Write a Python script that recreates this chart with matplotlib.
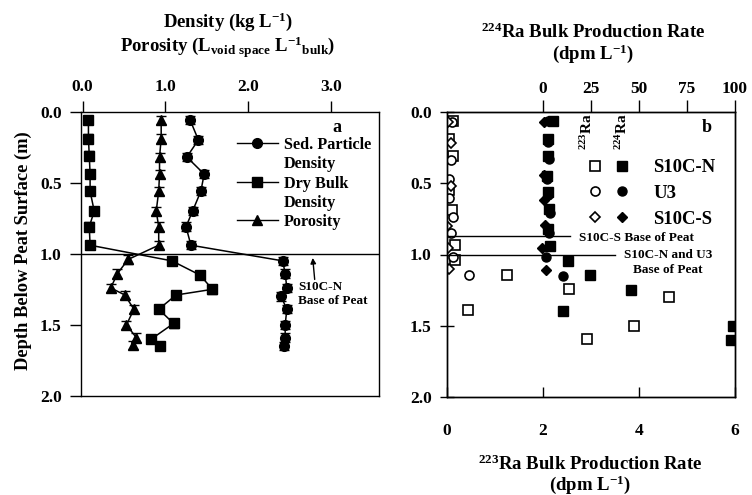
import matplotlib
matplotlib.use('Agg')
import matplotlib.pyplot as plt
from matplotlib.lines import Line2D
from matplotlib.legend_handler import HandlerTuple

plt.rcParams['font.family'] = ['Liberation Serif', 'DejaVu Serif']
plt.rcParams['font.weight'] = 'bold'
plt.rcParams['mathtext.default'] = 'regular'
plt.rcParams['axes.linewidth'] = 1.0

# ---------------- Panel a data ----------------
sed_depth = [0.06, 0.20, 0.32, 0.44, 0.56, 0.70, 0.81, 0.94, 1.05, 1.14, 1.24, 1.30, 1.39, 1.50, 1.59, 1.65]
sed_density = [1.30, 1.40, 1.26, 1.47, 1.43, 1.33, 1.25, 1.31, 2.42, 2.45, 2.47, 2.40, 2.47, 2.45, 2.45, 2.44]

dry_depth = [0.06, 0.19, 0.31, 0.44, 0.56, 0.70, 0.81, 0.94, 1.05, 1.15, 1.25, 1.29, 1.39, 1.49, 1.60, 1.65]
dry_density = [0.07, 0.07, 0.08, 0.09, 0.09, 0.14, 0.08, 0.09, 1.08, 1.42, 1.57, 1.13, 0.92, 1.10, 0.83, 0.93]

por_depth = [0.06, 0.19, 0.32, 0.44, 0.56, 0.70, 0.81, 0.94, 1.04, 1.14, 1.24, 1.29, 1.39, 1.50, 1.59, 1.64]
porosity = [0.95, 0.95, 0.93, 0.93, 0.92, 0.89, 0.92, 0.92, 0.55, 0.42, 0.34, 0.51, 0.62, 0.53, 0.65, 0.61]

depth_err = 0.03
peat_base_a = 1.0

# ---------------- Panel b data ----------------
# 223Ra (open symbols, bottom axis, dpm/L)
n223_depth = [0.06, 0.19, 0.31, 0.55, 0.69, 0.93, 1.04, 1.144, 1.244, 1.30, 1.39, 1.50, 1.595]
n223 = [0.13, 0.04, 0.13, 0.05, 0.10, 0.17, 0.17, 1.24, 2.55, 4.63, 0.44, 3.90, 2.91]
u3_223_depth = [0.07, 0.34, 0.47, 0.60, 0.74, 0.85, 1.02, 1.144]
u3_223 = [0.10, 0.09, 0.04, 0.05, 0.12, 0.08, 0.12, 0.46]
s_223_depth = [0.07, 0.22, 0.52, 0.80, 0.955, 1.10]
s_223 = [0.03, 0.08, 0.08, 0.00, 0.03, 0.05]

# 224Ra (filled symbols, top axis, dpm/L)
n224_depth = [0.06, 0.19, 0.31, 0.45, 0.56, 0.68, 0.82, 0.94, 1.046, 1.146, 1.249, 1.394, 1.502, 1.60]
n224 = [5.0, 2.5, 2.8, 2.3, 2.5, 3.0, 2.8, 3.5, 13.2, 24.5, 45.7, 10.3, 99.0, 98.0]
u3_224_depth = [0.06, 0.21, 0.33, 0.47, 0.58, 0.71, 0.85, 1.02, 1.151]
u3_224 = [2.5, 2.8, 3.0, 2.0, 2.5, 3.5, 3.0, 1.6, 10.3]
s_224_depth = [0.07, 0.44, 0.62, 0.79, 0.955, 1.109]
s_224 = [0.5, 0.3, 0.5, 0.8, -0.3, 1.6]

peat_base_s = 0.87
peat_base_nu3 = 1.0

depth_ticks = [0.0, 0.5, 1.0, 1.5, 2.0]
depth_labels = ['0.0', '0.5', '1.0', '1.5', '2.0']
dens_ticks = [0, 1, 2, 3]
dens_labels = ['0.0', '1.0', '2.0', '3.0']
ra223_ticks = [0, 2, 4, 6]
ra224_ticks = [0, 25, 50, 75, 100]

W, H = 752, 495
fig = plt.figure(figsize=(W / 100, H / 100), dpi=100)

def px(x0, y0, x1, y1):
    return [x0 / W, 1 - y1 / H, (x1 - x0) / W, (y1 - y0) / H]

# ================= Panel a =================
ax = fig.add_axes(px(81, 111.5, 379, 396))
kw = dict(color='black', lw=1.1, capsize=3.6, elinewidth=1.0, capthick=1.0)
ax.errorbar(sed_density, sed_depth, yerr=depth_err, fmt='-o', ms=7, **kw)
ax.errorbar(dry_density, dry_depth, yerr=depth_err, fmt='-s', ms=6.5, **kw)
ax.errorbar(porosity, por_depth, yerr=depth_err, fmt='-^', ms=7, **kw)
ax.axhline(peat_base_a, color='black', lw=1.0)
ax.set_xlim(-0.02, 3.585)
ax.set_ylim(2.0, 0.0)
ax.xaxis.tick_top()
ax.set_xticks(dens_ticks)
ax.set_xticklabels(dens_labels)
ax.set_yticks(depth_ticks)
ax.set_yticklabels(depth_labels)
ax.tick_params(axis='x', direction='out', length=8, width=1, pad=4, labelsize=12.5)
ax.tick_params(axis='y', direction='out', length=8, width=1, pad=6, labelsize=12.5)
ax.text(3.08, 0.11, 'a', fontsize=13, ha='center', va='center')

handles = [Line2D([], [], color='black', marker='o', ms=7, lw=1),
           Line2D([], [], lw=0, marker=None),
           Line2D([], [], color='black', marker='s', ms=6.5, lw=1),
           Line2D([], [], lw=0, marker=None),
           Line2D([], [], color='black', marker='^', ms=7, lw=1)]
labels = ['Sed. Particle', 'Density', 'Dry Bulk', 'Density', 'Porosity']
ax.legend(handles, labels, loc='upper left', bbox_to_anchor=(0.522, 1 - (137 - 111.5) / 284.5),
          frameon=False, borderpad=0, borderaxespad=0, handlelength=2.55,
          handletextpad=0.35, labelspacing=0.2, fontsize=11.7, numpoints=1)

ax.annotate('', xy=(2.78, 1.01), xytext=(2.81, 1.2),
            arrowprops=dict(arrowstyle='-|>', color='black', lw=1.0, mutation_scale=8))
ax.text(2.61, 1.235, 'S10C-N', fontsize=9.5, ha='left', va='center')
ax.text(2.61, 1.335, 'Base of Peat', fontsize=9.5, ha='left', va='center')

fig.text(228 / W, 1 - 22 / H, 'Density (kg L$^{-1}$)', fontsize=13.5, ha='center', va='center')
fig.text(228 / W, 1 - 47 / H, 'Porosity (L$_{void\\ space}$ L$^{-1}$$_{bulk}$)',
         fontsize=13.5, ha='center', va='center')
fig.text(23 / W, 1 - 251 / H, 'Depth Below Peat Surface (m)', fontsize=13.3,
         rotation=90, ha='center', va='center')

# ================= Panel b =================
bx = fig.add_axes(px(447, 112, 735, 397))
ms_o = 6.5
bx.plot(n223, n223_depth, 's', ms=ms_o, mfc='white', mec='black', mew=1.2, ls='none')
bx.plot(u3_223, u3_223_depth, 'o', ms=ms_o, mfc='white', mec='black', mew=1.2, ls='none')
bx.plot(s_223, s_223_depth, 'D', ms=5.5, mfc='white', mec='black', mew=1.2, ls='none')
bx.set_xlim(0, 6)
bx.set_ylim(2.0, 0.0)
bx.set_xticks(ra223_ticks)
bx.set_xticklabels([str(t) for t in ra223_ticks])
bx.set_yticks(depth_ticks)
bx.set_yticklabels(depth_labels)
bx.tick_params(axis='x', direction='in', length=7, width=1, pad=19, labelsize=12.5)
bx.tick_params(axis='y', direction='inout', length=10, width=1, pad=6, labelsize=12.5)

bx.axhline(peat_base_s, xmin=0, xmax=0.427, color='black', lw=1.0)
bx.axhline(peat_base_nu3, xmin=0, xmax=0.583, color='black', lw=1.0)
bx.text((579.3 - 447) / 288, 1 - (238 - 112) / 285, 'S10C-S Base of Peat', transform=bx.transAxes,
        fontsize=9.5, ha='left', va='center')
bx.text((668 - 447) / 288, 1 - (249 - 112) / 285, 'S10C-N and U3\nBase of Peat', transform=bx.transAxes,
        fontsize=9.5, ha='center', va='top', linespacing=1.3)
bx.text((707 - 447) / 288, 1 - (127 - 112) / 285, 'b', transform=bx.transAxes,
        fontsize=13, ha='center', va='center')

bx2 = bx.twiny()
bx2.plot(n224, n224_depth, 's', ms=ms_o, color='black', ls='none')
bx2.plot(u3_224, u3_224_depth, 'o', ms=ms_o, color='black', ls='none')
bx2.plot(s_224, s_224_depth, 'D', ms=5.5, color='black', ls='none')
bx2.set_xlim(-50, 100)
bx2.set_xticks(ra224_ticks)
bx2.set_xticklabels([str(t) for t in ra224_ticks])
bx2.tick_params(axis='x', direction='out', length=9, width=1, pad=2, labelsize=12.5)

# legend (open = 223Ra, filled = 224Ra)
leg_h = [(Line2D([], [], marker='s', ms=ms_o, mfc='white', mec='black', mew=1.2, ls='none'),
          Line2D([], [], marker='s', ms=ms_o, color='black', ls='none')),
         (Line2D([], [], marker='o', ms=ms_o, mfc='white', mec='black', mew=1.2, ls='none'),
          Line2D([], [], marker='o', ms=ms_o, color='black', ls='none')),
         (Line2D([], [], marker='D', ms=5.5, mfc='white', mec='black', mew=1.2, ls='none'),
          Line2D([], [], marker='D', ms=5.5, color='black', ls='none'))]
leg_l = ['S10C-N', 'U3', 'S10C-S']
bx2.legend(leg_h, leg_l, handler_map={tuple: HandlerTuple(ndivide=None, pad=0)},
           loc='upper left', bbox_to_anchor=((581.5 - 447) / 288, 1 - (159 - 112) / 285),
           frameon=False, borderpad=0, borderaxespad=0, handlelength=2.88,
           handletextpad=0.95, labelspacing=0.46, fontsize=13.5, numpoints=1)
bx2.text((587 - 447) / 288, 1 - (132 - 112) / 285, '$^{223}$Ra', transform=bx2.transAxes,
         fontsize=11, rotation=90, ha='center', va='center')
bx2.text((622 - 447) / 288, 1 - (132 - 112) / 285, '$^{224}$Ra', transform=bx2.transAxes,
         fontsize=11, rotation=90, ha='center', va='center')

fig.text(593 / W, 1 - 32 / H, '$^{224}$Ra Bulk Production Rate', fontsize=13.5, ha='center', va='center')
fig.text(593 / W, 1 - 54 / H, '(dpm L$^{-1}$)', fontsize=13.5, ha='center', va='center')
fig.text(590 / W, 1 - 464 / H, '$^{223}$Ra Bulk Production Rate', fontsize=13.5, ha='center', va='center')
fig.text(590 / W, 1 - 485 / H, '(dpm L$^{-1}$)', fontsize=13.5, ha='center', va='center')

fig.savefig('out.png', dpi=100)
